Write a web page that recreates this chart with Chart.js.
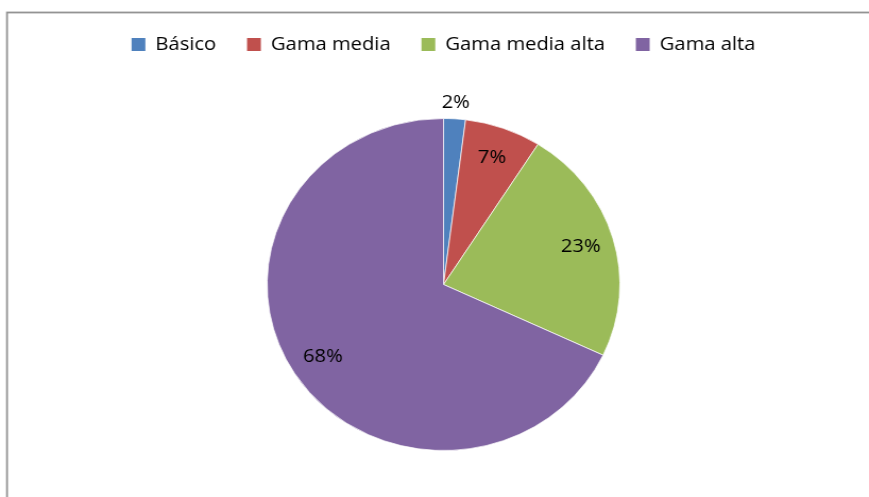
<!DOCTYPE html>
<html>
<head>
<meta charset="utf-8">
<script src="https://cdn.jsdelivr.net/npm/chart.js@4/dist/chart.umd.min.js"></script>
<style>
  html, body { margin: 0; padding: 0; background: #fff; overflow: hidden; }
  #wrap { width: 818px; height: 510px; transform: scale(1.0623, 1); transform-origin: 0 0; }
</style>
</head>
<body>
<div id="wrap"><canvas id="pie" width="818" height="510"></canvas></div>
<script>
// Segment shares (percent)
const categories = ['Básico', 'Gama media', 'Gama media alta', 'Gama alta'];
const shares = [2, 7, 23, 68];
const sliceColors = ['#4F81BD', '#C0504D', '#9BBB59', '#8064A2'];

const FONT = 'Open Sans';

// White page with the grey frame that runs off the right and bottom
const framePlugin = {
    id: 'frame',
    beforeDraw(chart) {
        const ctx = chart.ctx;
        ctx.save();
        ctx.fillStyle = '#fff';
        ctx.fillRect(0, 0, chart.width, chart.height);
        ctx.strokeStyle = '#939393';
        ctx.lineWidth = 1.8;
        ctx.strokeRect(6.6, 12.5, chart.width + 20, chart.height + 20);
        ctx.restore();
    }
};

// Percent labels: inside the slice, small slices just outside the rim
const pctLabels = {
    id: 'pctLabels',
    afterDatasetsDraw(chart) {
        const ctx = chart.ctx;
        const meta = chart.getDatasetMeta(0);
        const values = chart.data.datasets[0].data;
        ctx.save();
        ctx.font = '19px "' + FONT + '"';
        ctx.fillStyle = '#000';
        ctx.textAlign = 'center';
        ctx.textBaseline = 'middle';
        meta.data.forEach((arc, i) => {
            const p = arc.getProps(['x', 'y', 'startAngle', 'endAngle', 'outerRadius'], true);
            const mid = (p.startAngle + p.endAngle) / 2;
            const f = values[i] < 5 ? 1.1 : 0.81;
            const x = p.x + Math.cos(mid) * p.outerRadius * f;
            const y = p.y + Math.sin(mid) * p.outerRadius * f;
            ctx.fillText(values[i] + '%', x, y);
        });
        ctx.restore();
    }
};

new Chart(document.getElementById('pie'), {
    type: 'pie',
    data: {
        labels: categories,
        datasets: [{
            data: shares,
            backgroundColor: sliceColors,
            borderColor: 'rgba(255,255,255,0.7)',
            borderWidth: 1,
            radius: 166
        }]
    },
    options: {
        responsive: false,
        animation: false,
        layout: { padding: { top: 6, left: 17, right: 0, bottom: 5 } },
        plugins: {
            legend: {
                position: 'top',
                labels: {
                    boxWidth: 13,
                    boxHeight: 13,
                    padding: 29,
                    color: '#000',
                    font: { family: FONT, size: 19 },
                    generateLabels(chart) {
                        return Chart.overrides.pie.plugins.legend.labels.generateLabels(chart)
                            .map(item => Object.assign(item, { lineWidth: 0 }));
                    }
                }
            },
            tooltip: { enabled: false }
        }
    },
    plugins: [framePlugin, pctLabels]
});
</script>
</body>
</html>
